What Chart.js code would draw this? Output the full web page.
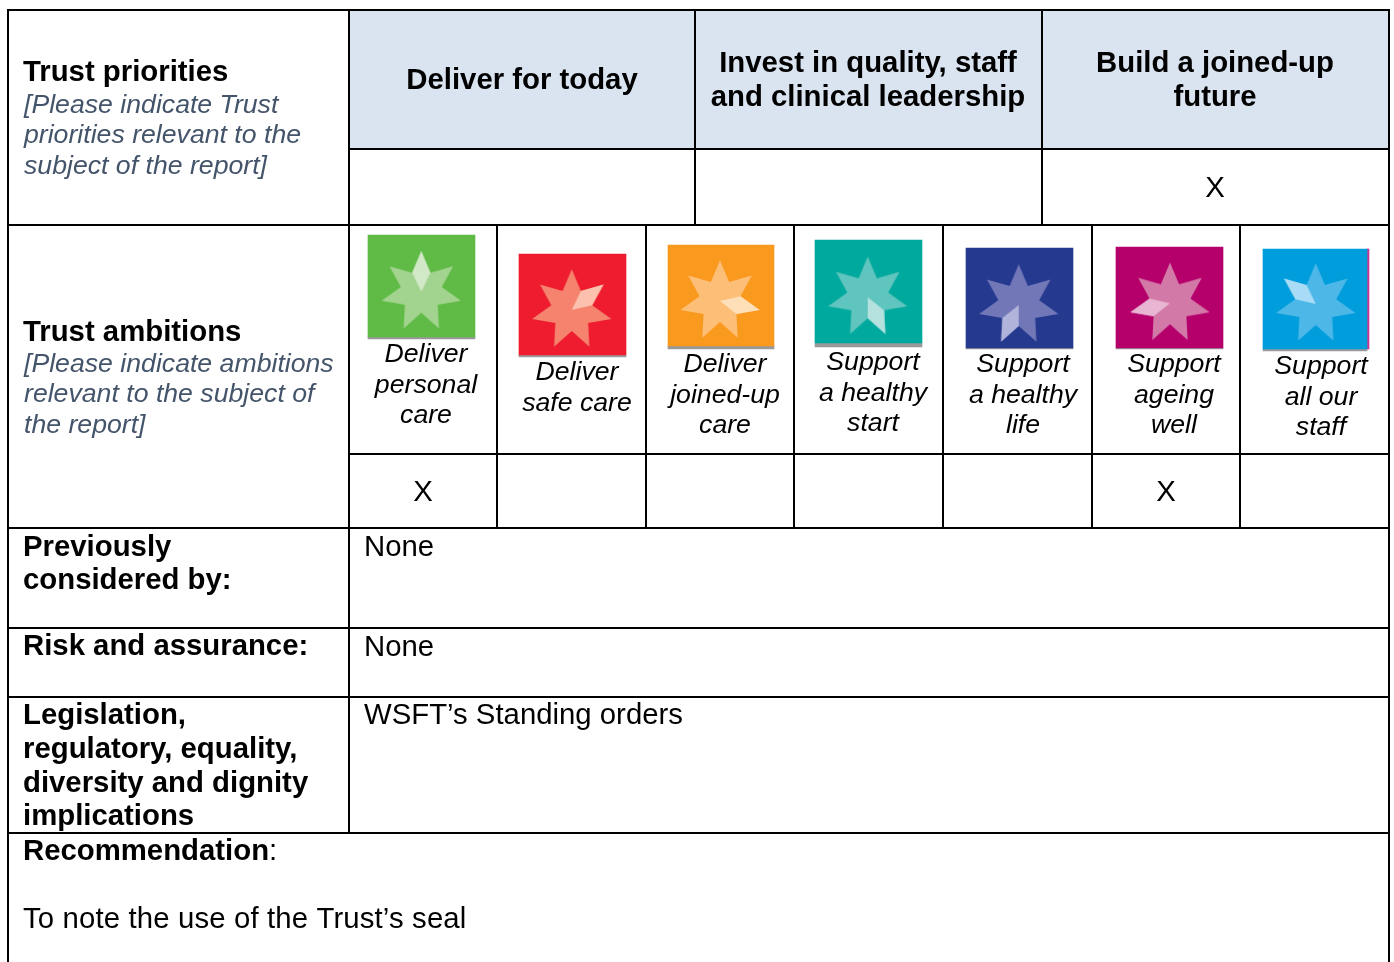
<!DOCTYPE html>
<html>
<head>
<meta charset="utf-8">
<title>Trust priorities and ambitions</title>
<script src="https://cdn.jsdelivr.net/npm/chart.js@4"></script>
<style>
    html, body { margin: 0; padding: 0; background: #fff; overflow: hidden; }
    canvas { display: block; }
</style>
</head>
<body>
<canvas id="chart-table" width="1394" height="962"></canvas>
<script>
// table rules: [fixed position, from, to]
const horizontalRules = [
    [10, 8, 1389], [149, 349, 1389], [225, 8, 1389], [454, 349, 1389],
    [528, 8, 1389], [628, 8, 1389], [697, 8, 1389], [833, 8, 1389]
];
const verticalRules = [
    [8, 10, 962], [349, 10, 833], [695, 10, 225], [1042, 10, 225], [497, 225, 528],
    [646, 225, 528], [794, 225, 528], [943, 225, 528], [1092, 225, 528], [1240, 225, 528], [1389, 10, 962]
];

// ambition icons, one entry each
const iconLeft = [368, 519, 668, 815, 966, 1116, 1263];
const iconRight = [475, 626, 774, 922, 1073, 1223, 1367];
const iconTop = [235, 254, 245, 240, 248, 247, 249];
const iconBottom = [337, 355, 346, 343, 348, 348, 349];
const iconShadow = [338, 356, 348, 346, 348, 348, 350];
const starX = [421.3, 571.7, 720, 867.7, 1018.7, 1170, 1315.7];
const starY = [291.7, 310, 301, 297.3, 305, 303.3, 304];
const iconColors = ['#5fba46', '#ee1c2e', '#f9991d', '#00a99d', '#25398f', '#b5006c', '#009ddc'];
const starColors = ['#a3d48f', '#f5836e', '#fdbe78', '#5fc5be', '#7277b8', '#d379a8', '#4db8e8'];
const tipColors = ['#d2e9c8', '#fbc1ae', '#fedfb8', '#b5e2df', '#b0b3da', '#e8b5d2', '#a8dbf5'];

const ambitionLabels = [
    ['Deliver', 'personal', 'care'],
    ['Deliver', 'safe care'],
    ['Deliver', 'joined-up', 'care'],
    ['Support', 'a healthy', 'start'],
    ['Support', 'a healthy', 'life'],
    ['Support', 'ageing', 'well'],
    ['Support', 'all our', 'staff']
];
const ambitionLabelX = [426, 577, 725, 873, 1023, 1174, 1321];
const ambitionLabelY = [362, 380, 372, 370, 372, 372, 374];

const boldLeft = [
    ['Trust priorities', 81], ['Trust ambitions', 341], ['Previously', 556], ['considered by:', 589],
    ['Risk and assurance:', 655], ['Legislation,', 724], ['regulatory, equality,', 758],
    ['diversity and dignity', 792], ['implications', 825]
];
const hintLeft = [
    ['[Please indicate Trust', 113], ['priorities relevant to the', 143], ['subject of the report]', 174],
    ['[Please indicate ambitions', 372], ['relevant to the subject of', 402], ['the report]', 433]
];
const plainLeft = [
    ['None', 364, 556], ['None', 364, 656], ['WSFT\u2019s Standing orders', 364, 724],
    [':', 269, 860]
];
const sealNote = 'To note the use of the Trust\u2019s seal';
const headerCentred = [
    ['Deliver for today', 522, 89], ['Invest in quality, staff', 868, 72], ['and clinical leadership', 868, 106],
    ['Build a joined-up', 1215, 72], ['future', 1215, 106]
];
const crosses = [[1215, 197], [423, 501], [1166, 501]];

const HEADER_FILL = '#dae3f0';
const BOLD_FONT = 'bold 29.33px "Liberation Sans", Arial, sans-serif';
const PLAIN_FONT = '29.33px "Liberation Sans", Arial, sans-serif';
const ITALIC_FONT = 'italic 26.67px "Liberation Sans", Arial, sans-serif';

function makeStar(index) {
    const size = 90, mid = size / 2, outer = 40.7, inner = 21;
    const star = document.createElement('canvas');
    star.width = size;
    star.height = size;
    const ctx = star.getContext('2d');
    const polar = (radius, step) => {
        const angle = -Math.PI / 2 + step * Math.PI / 7;
        return [mid + radius * Math.cos(angle), mid + radius * Math.sin(angle)];
    };
    ctx.fillStyle = starColors[index];
    ctx.beginPath();
    for (let i = 0; i < 14; i++) {
        const p = polar(i % 2 === 0 ? outer : inner, i);
        ctx.lineTo(p[0], p[1]);
    }
    ctx.closePath();
    ctx.fill();
    // the lighter tip turns one point further round on each icon
    const tip = index * 2;
    ctx.fillStyle = tipColors[index];
    ctx.beginPath();
    ctx.moveTo(mid, mid);
    [[inner, tip - 1], [outer, tip], [inner, tip + 1]].forEach(([radius, step]) => {
        const p = polar(radius, step);
        ctx.lineTo(p[0], p[1]);
    });
    ctx.closePath();
    ctx.fill();
    return star;
}

function barDataset(x, width, from, to, color, order) {
    return {
        type: 'bar',
        data: [{ x: x, y: [from, to] }],
        backgroundColor: color,
        borderWidth: 0,
        barThickness: width,
        grouped: false,
        order: order
    };
}

function ruleDataset(points) {
    return {
        type: 'line',
        data: points,
        borderColor: '#000',
        borderWidth: 2,
        borderCapStyle: 'square',
        pointRadius: 0,
        tension: 0,
        order: 1
    };
}

const datasets = [];

// header band
datasets.push(barDataset((349 + 1389) / 2, 1389 - 349, 10, 149, HEADER_FILL, 5));

iconLeft.forEach((left, i) => {
    const width = iconRight[i] - left;
    const mid = (left + iconRight[i]) / 2;
    datasets.push(barDataset(mid, width, iconBottom[i], iconShadow[i] + 1, '#9a9a9a', 4));
    datasets.push(barDataset(mid, width, iconTop[i], iconBottom[i], iconColors[i], 3));
});
// stray magenta edge on the last icon
datasets.push(barDataset(1368, 2, 249, 349, '#c8388f', 3));

horizontalRules.forEach(r => datasets.push(ruleDataset([{ x: r[1], y: r[0] }, { x: r[2], y: r[0] }])));
verticalRules.forEach(r => datasets.push(ruleDataset([{ x: r[0], y: r[1] }, { x: r[0], y: r[2] }])));

datasets.push({
    type: 'scatter',
    data: starX.map((x, i) => ({ x: x, y: starY[i] })),
    pointStyle: iconColors.map((c, i) => makeStar(i)),
    pointRadius: 20,
    order: 0
});

const tableText = {
    id: 'tableText',
    afterDraw(chart) {
        const ctx = chart.ctx;
        const sx = chart.scales.x, sy = chart.scales.y;
        const put = (text, x, y, font, color, align) => {
            ctx.font = font;
            ctx.fillStyle = color;
            ctx.textAlign = align;
            ctx.textBaseline = 'alphabetic';
            ctx.fillText(text, sx.getPixelForValue(x), sy.getPixelForValue(y));
        };
        ctx.save();
        boldLeft.forEach(t => put(t[0], 23, t[1], BOLD_FONT, '#000', 'left'));
        put('Recommendation', 23, 860, BOLD_FONT, '#000', 'left');
        hintLeft.forEach(t => put(t[0], 24, t[1], ITALIC_FONT, '#44546a', 'left'));
        plainLeft.forEach(t => put(t[0], t[1], t[2], PLAIN_FONT, '#000', 'left'));
        headerCentred.forEach(t => put(t[0], t[1], t[2], BOLD_FONT, '#000', 'center'));
        crosses.forEach(c => put('X', c[0], c[1], PLAIN_FONT, '#000', 'center'));
        ambitionLabels.forEach((lines, i) => {
            lines.forEach((line, n) => {
                put(line, ambitionLabelX[i], ambitionLabelY[i] + n * 30.5, ITALIC_FONT, '#000', 'center');
            });
        });
        // this line runs a little wider in the original
        ctx.letterSpacing = '0.14px';
        put(sealNote, 23, 928, PLAIN_FONT, '#000', 'left');
        ctx.letterSpacing = '0px';
        ctx.restore();
    }
};

new Chart(document.getElementById('chart-table').getContext('2d'), {
    type: 'bar',
    data: { datasets: datasets },
    plugins: [tableText],
    options: {
        responsive: false,
        animation: false,
        layout: { padding: 0, autoPadding: false },
        scales: {
            x: { type: 'linear', display: false, min: 0, max: 1394, offset: false },
            y: { type: 'linear', display: false, min: 0, max: 962, reverse: true }
        },
        plugins: { legend: { display: false }, tooltip: { enabled: false } }
    }
});
</script>
</body>
</html>
